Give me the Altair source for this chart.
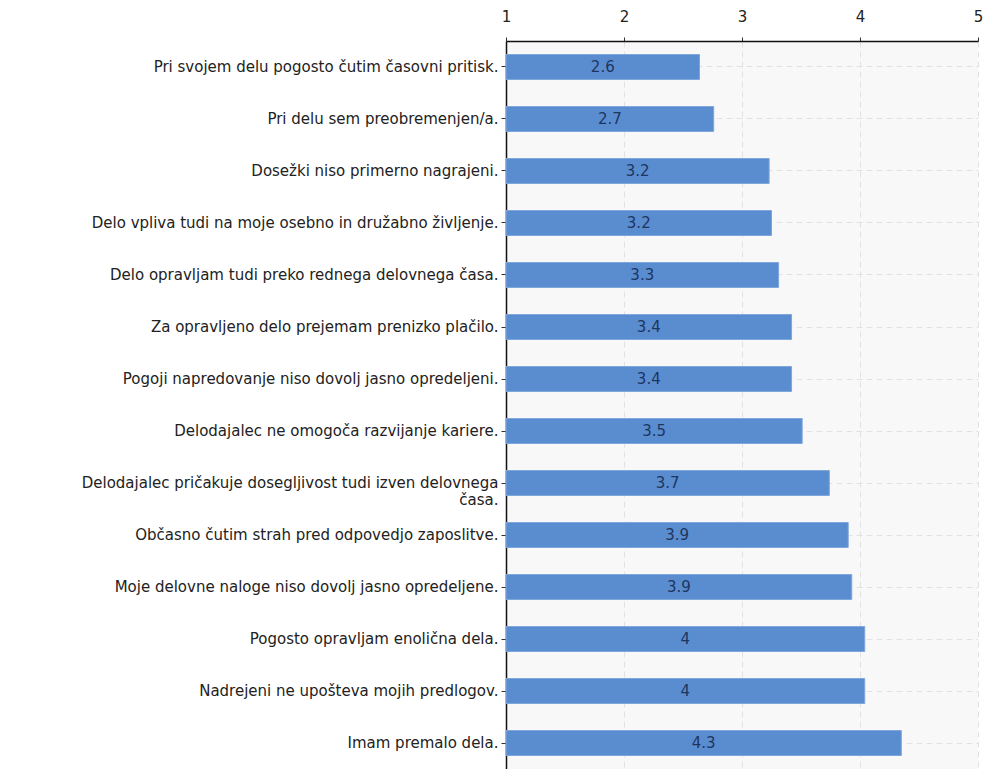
import altair as alt
import pandas as pd

statements = [
    "Pri svojem delu pogosto čutim časovni pritisk.",
    "Pri delu sem preobremenjen/a.",
    "Dosežki niso primerno nagrajeni.",
    "Delo vpliva tudi na moje osebno in družabno življenje.",
    "Delo opravljam tudi preko rednega delovnega časa.",
    "Za opravljeno delo prejemam prenizko plačilo.",
    "Pogoji napredovanje niso dovolj jasno opredeljeni.",
    "Delodajalec ne omogoča razvijanje kariere.",
    "Delodajalec pričakuje dosegljivost tudi izven delovnega\nčasa.",
    "Občasno čutim strah pred odpovedjo zaposlitve.",
    "Moje delovne naloge niso dovolj jasno opredeljene.",
    "Pogosto opravljam enolična dela.",
    "Nadrejeni ne upošteva mojih predlogov.",
    "Imam premalo dela.",
]
values = [2.64, 2.76, 3.23, 3.25, 3.31, 3.42, 3.42, 3.51, 3.74, 3.90, 3.93, 4.04, 4.04, 4.35]
value_labels = ["2.6", "2.7", "3.2", "3.2", "3.3", "3.4", "3.4", "3.5", "3.7", "3.9", "3.9", "4", "4", "4.3"]

df = pd.DataFrame({"statement": statements, "value": values, "label": value_labels})

FONT = "DejaVu Sans"

y_enc = alt.Y(
    "statement:N",
    sort=statements,
    scale=alt.Scale(paddingInner=0.52, paddingOuter=0.26),
    axis=alt.Axis(
        title=None,
        labelExpr="split(datum.label, '\\n')",
        labelLimit=600,
        labelFontSize=15,
        labelFont=FONT,
        labelColor="#222222",
        labelPadding=3,
        labelLineHeight=17,
        tickSize=5,
        tickColor="#333333",
        domainColor="#111111",
        domainWidth=1.5,
        grid=True,
        gridDash=[6, 4],
        gridColor="#e2e2e2",
    ),
)

x_scale = alt.Scale(domain=[1, 5], nice=False, zero=False)

bars = alt.Chart(df).mark_bar(
    color="#5a8dd0", stroke="#7fa6da", strokeWidth=1
).encode(
    y=y_enc,
    x=alt.X(
        "value:Q",
        scale=x_scale,
        axis=alt.Axis(
            orient="top",
            title=None,
            values=[1, 2, 3, 4, 5],
            format="d",
            labelFontSize=15,
            labelFont=FONT,
            labelColor="#222222",
            labelPadding=13,
            tickSize=4,
            tickColor="#333333",
            domainColor="#111111",
            domainWidth=1.5,
            grid=True,
            gridDash=[6, 4],
            gridColor="#e2e2e2",
            labelFlush=False,
        ),
    ),
    x2=alt.datum(1),
)

texts = alt.Chart(df).transform_calculate(
    mid="(1 + datum.value) / 2"
).mark_text(
    font=FONT, fontSize=15, color="#1e3560", baseline="middle", align="center"
).encode(
    y=alt.Y("statement:N", sort=statements),
    x=alt.X("mid:Q", scale=x_scale),
    text="label:N",
)

chart = (
    alt.layer(bars, texts)
    .properties(
        width=472,
        height=728,
        autosize=alt.AutoSizeParams(type="none"),
        padding={"left": 506, "top": 41, "right": 5, "bottom": 0},
        background="white",
    )
    .configure_view(stroke=None, fill="#f8f8f8")
)

chart.save("out.html", embed_options={"renderer": "svg", "actions": False})
